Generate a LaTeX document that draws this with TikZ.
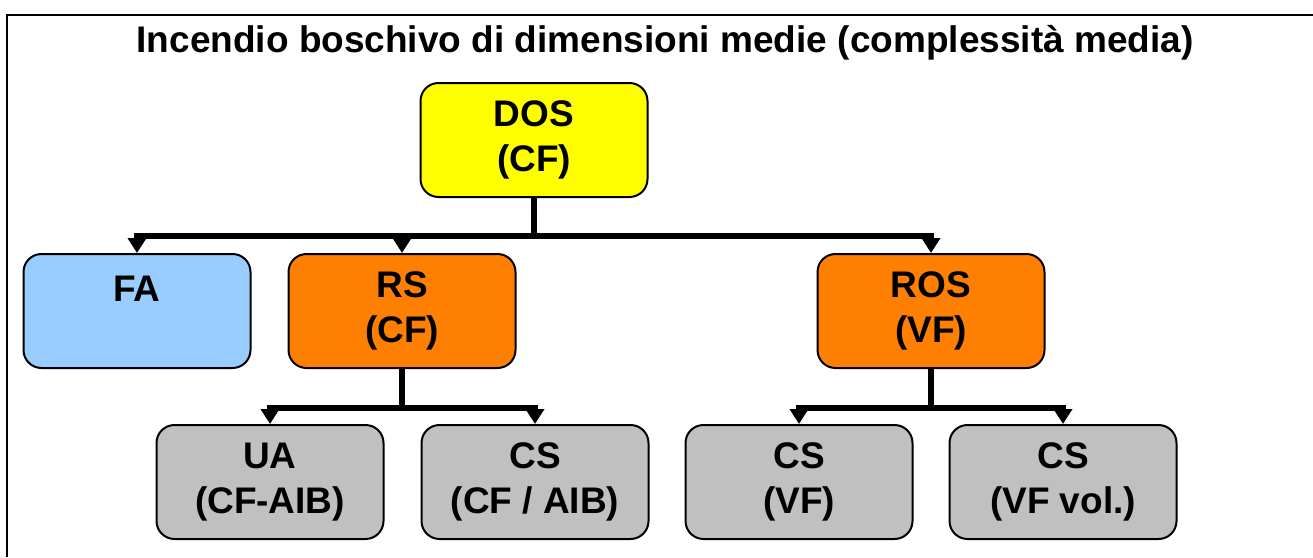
\documentclass[tikz,border=0pt]{standalone}
\usepackage{fontspec}
\setmainfont{Liberation Sans}
\usetikzlibrary{arrows.meta}

\definecolor{dosyellow}{HTML}{FFFF00}
\definecolor{fablue}{HTML}{99CCFF}
\definecolor{rsorange}{HTML}{FF8000}
\definecolor{csgray}{HTML}{C0C0C0}

\begin{document}
\begin{tikzpicture}[
  x=1pt, y=-1pt,
  box/.style={draw, line width=2pt, rounded corners=18pt, minimum width=227pt, minimum height=114pt,
    align=center, font=\fontsize{37}{45}\selectfont\bfseries},
  chief/.style={box, fill=dosyellow},
  support/.style={box, fill=fablue},
  leader/.style={box, fill=rsorange},
  team/.style={box, fill=csgray},
  link/.style={line width=5.5pt},
  arrow/.style={link, -{Triangle[width=18pt,length=15pt]}}
]
  \useasboundingbox (0,0) rectangle (1313,557);
  \draw[line width=2.5pt] (7,557) -- (7,15) -- (1313,15);

  \node[anchor=base, font=\fontsize{37}{44}\selectfont\bfseries] (title) at (665,52)
    {Incendio boschivo di dimensioni medie (complessità media)};

  % comando
  \node[chief] (dos) at (534,140) {DOS\\(CF)};

  % secondo livello
  \node[support] (fa) at (137,311) {FA\\~};
  \node[leader] (rs) at (402,311) {RS\\(CF)};
  \node[leader] (ros) at (931,311) {ROS\\(VF)};

  % squadre
  \node[team] (ua) at (270,482) {UA\\(CF-AIB)};
  \node[team] (csaib) at (535,482) {CS\\(CF / AIB)};
  \node[team] (csvf) at (799,482) {CS\\(VF)};
  \node[team] (csvol) at (1063,482) {CS\\(VF vol.)};

  \coordinate (bus1) at (534,236);
  \coordinate (bus2) at (402,408);
  \coordinate (bus3) at (931,408);

  \draw[link] (dos) -- (bus1);
  \draw[arrow] (bus1) -| (fa);
  \draw[arrow] (bus1) -| (rs);
  \draw[arrow] (bus1) -| (ros);

  \draw[link] (rs) -- (bus2);
  \draw[arrow] (bus2) -| (ua);
  \draw[arrow] (bus2) -| (csaib);

  \draw[link] (ros) -- (bus3);
  \draw[arrow] (bus3) -| (csvf);
  \draw[arrow] (bus3) -| (csvol);
\end{tikzpicture}
\end{document}
